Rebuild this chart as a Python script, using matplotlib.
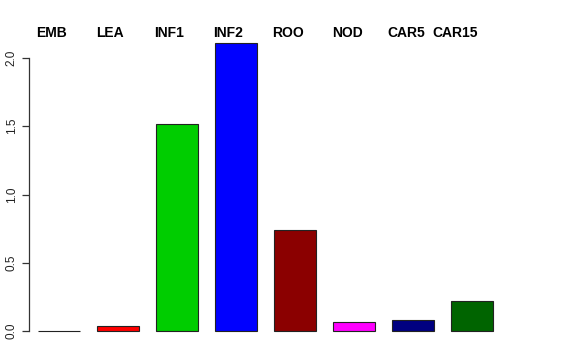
import matplotlib
matplotlib.use("Agg")
import matplotlib.pyplot as plt
import numpy as np

categories = ["EMB", "LEA", "INF1", "INF2", "ROO", "NOD", "CAR5", "CAR15"]
values = [0.003, 0.034, 1.515, 2.11, 0.74, 0.068, 0.077, 0.22]
colors = ["black", "#FF0000", "#00CD00", "#0000FF", "#8B0000", "#FF00FF", "#000080", "#006400"]
label_x = [0.71, 2.11, 3.51, 4.91, 6.33, 7.75, 9.15, 10.31]
yticks = [0.0, 0.5, 1.0, 1.5, 2.0]

plt.rcParams['font.family'] = ['Liberation Sans', 'DejaVu Sans']

W, H = 576, 360
fig = plt.figure(figsize=(W / 100, H / 100), dpi=100)

# pixel geometry
px_per_x = 42.14
px_per_y = 136.5
zero_px = 331
left_px, right_px = 29, 570
top_px, bottom_px = 20, 345
ax = fig.add_axes([left_px / W, 1 - bottom_px / H, (right_px - left_px) / W, (bottom_px - top_px) / H])

space = 0.4
lefts = space + np.arange(len(categories)) * (1 + space)
centers = lefts + 0.5
ax.bar(centers, values, width=1.0, color=colors, edgecolor="#222222", linewidth=0.8)

xmin = lefts[0] - (38 - left_px) / px_per_x
ax.set_xlim(xmin, xmin + (right_px - left_px) / px_per_x)
ax.set_ylim(-(bottom_px - zero_px) / px_per_y, (zero_px - top_px) / px_per_y)

for s in ["top", "right", "bottom"]:
    ax.spines[s].set_visible(False)
ax.spines["left"].set_bounds(0, 2)
ax.spines["left"].set_color("#333333")
ax.spines["left"].set_linewidth(0.9)
ax.set_xticks([])
ax.set_yticks(yticks)
ax.set_yticklabels([f"{t:.1f}" for t in yticks], rotation=90, va="center", fontsize=8.5, color="#222222")
ax.tick_params(axis="y", length=5, width=0.9, color="#333333", pad=3)

for x, lab in zip(label_x, categories):
    ax.text(x, (zero_px - 37) / px_per_y, lab, ha="center", va="baseline", fontsize=10, fontweight="bold")

fig.savefig("out.png", dpi=100)
